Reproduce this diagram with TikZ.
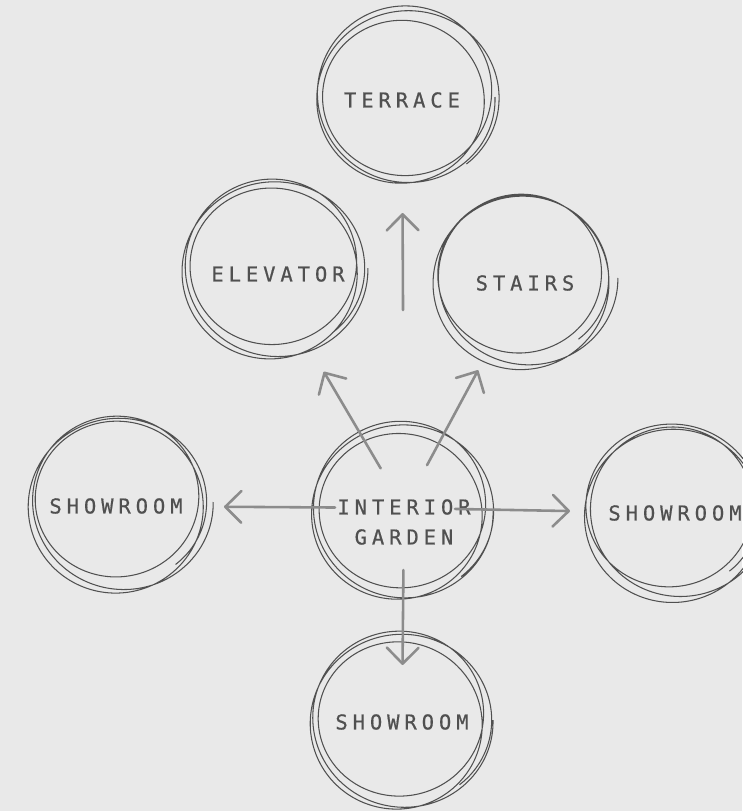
\documentclass[tikz,border=0pt]{standalone}
\usepackage{fontspec}
\usetikzlibrary{arrows.meta}

\newfontfamily\roomfont[LetterSpace=24,FakeBold=0.6]{DejaVu Sans Mono}

\definecolor{paper}{RGB}{233,233,233}
\definecolor{inkgray}{RGB}{80,80,80}
\definecolor{arrowgray}{RGB}{140,140,140}

\tikzstyle{place} = [
inner sep=0pt,
align=center,
text=inkgray,
font={\roomfont\fontsize{17.5pt}{25.6pt}\selectfont}
]
\tikzstyle{ring} = [
draw=inkgray,
line width=0.9pt,
smooth
]
\tikzstyle{arrow} = [
line width=2.2pt,
draw=arrowgray,
line cap=round,
-{Straight Barb[length=4.8mm,width=9.5mm,round]}
]

% hand drawn ring: centre x, centre y, radius, phase
\newcommand{\handring}[4]{%
\draw[ring] plot[domain=0:1130, samples=240]
({#1 + (#3 + 6*sin(0.45*\x + #4))*cos(\x) + 4*cos(0.3*\x)},
{#2 + (#3 - 2 + 6*sin(0.45*\x + #4))*sin(\x) - 3*sin(0.3*\x)});
}

\begin{document}
\begin{tikzpicture}[
x=0.03cm,
y=-0.03cm
]

\fill[paper] (0,0) rectangle (742,811);
\useasboundingbox (0,0) rectangle (742,811);

% Rings
\handring{406}{97}{85}{0}
\handring{274}{268}{86}{40}
\handring{523}{278}{85}{80}
\handring{402}{511}{85}{20}
\handring{119}{502}{85}{60}
\handring{674}{510}{86}{100}
\handring{401}{720}{85}{30}

% Nodes
\node (terrace) [place] at (402,100) {TERRACE};
\node (elevator) [place] at (278,274) {ELEVATOR};
\node (stairs) [place] at (525,283) {STAIRS};
\node (garden) [place] at (404,522) {INTERIOR\\GARDEN};
\node (showleft) [place] at (116,506) {SHOWROOM};
\node (showright) [place] at (675,513) {SHOWROOM};
\node (showbottom) [place] at (402,722) {SHOWROOM};

% Arrows
\draw [arrow, shorten <=5.94cm, shorten >=3.39cm]
([yshift=0.42cm]garden.center) -- (terrace.center);
\draw [arrow, shorten <=1.38cm, shorten >=3.4cm]
([yshift=0.42cm]garden.center) -- ([xshift=-0.35cm]elevator.center);
\draw [arrow, shorten <=1.46cm, shorten >=2.97cm]
([yshift=0.42cm]garden.center) -- (stairs.center);
\draw [arrow, shorten <=2.07cm, shorten >=3.24cm]
([yshift=0.42cm]garden.center) -- (showleft.center);
\draw [arrow, shorten <=1.53cm, shorten >=3.15cm]
([yshift=0.42cm]garden.center) -- (showright.center);
\draw [arrow, shorten <=1.86cm, shorten >=1.71cm]
([yshift=0.42cm]garden.center) -- (showbottom.center);

\end{tikzpicture}
\end{document}
